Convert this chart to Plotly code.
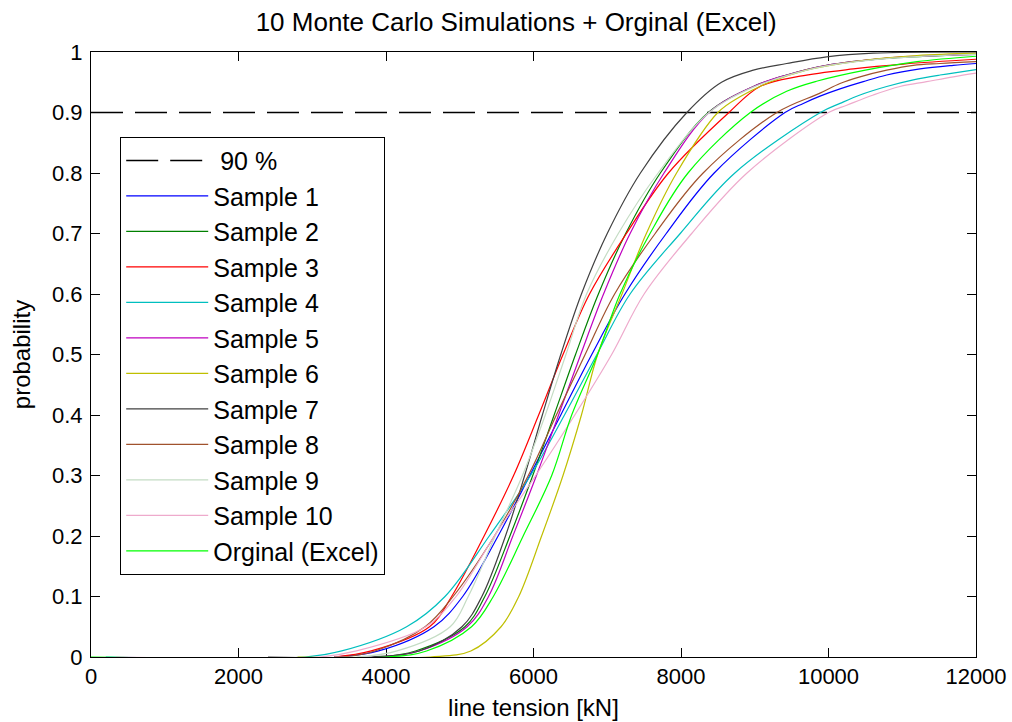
import plotly.graph_objects as go

# Cumulative probability levels at which each tension curve is tabulated.
# The first entry (0) marks where the curve leaves the axis.
P_LEVELS = [0.0, 0.01, 0.05, 0.1, 0.2, 0.3, 0.4, 0.5, 0.6, 0.7, 0.8, 0.9]

NAMES = ["Sample 1", "Sample 2", "Sample 3", "Sample 4", "Sample 5",
         "Sample 6", "Sample 7", "Sample 8", "Sample 9", "Sample 10",
         "Orginal (Excel)"]

COLORS = ["#0000ff", "#008000", "#ff0000", "#00bfbf", "#bf00bf",
          "#bfbf00", "#404040", "#a0522d", "#c4dcc4", "#eeaacc",
          "#00ff00"]

# tension [kN] where each curve starts (probability 0)
START_KN = [3300, 3300, 3300, 200, 3300, 2800, 2400, 3300, 3300, 340, 0]

# tension [kN] reached at each entry of P_LEVELS
S1 = [3300, 3900, 4650, 5040, 5520, 5950, 6370, 6790, 7240, 7800, 8450, 9410]
S2 = [3900, 4400, 5070, 5340, 5680, 5990, 6280, 6570, 6880, 7250, 7720, 8370]
S3 = [3300, 3800, 4590, 4890, 5330, 5730, 6070, 6400, 6760, 7260, 7830, 8650]
S4 = [2900, 3400, 4280, 4800, 5400, 5960, 6420, 6860, 7310, 7990, 8730, 9890]
S5 = [3900, 4450, 5100, 5390, 5720, 6040, 6340, 6640, 6950, 7310, 7770, 8380]
S6 = [4600, 5150, 5560, 5800, 6110, 6400, 6650, 6870, 7200, 7530, 7940, 8500]
S7 = [3800, 4450, 5030, 5300, 5620, 5880, 6120, 6370, 6650, 7000, 7450, 8080]
S8 = [3400, 3850, 4530, 4910, 5470, 5930, 6310, 6700, 7100, 7650, 8300, 9300]
S9 = [3600, 4150, 4870, 5115, 5480, 5850, 6160, 6440, 6720, 7150, 7690, 8380]
S10 = [3100, 3600, 4540, 4950, 5470, 6030, 6560, 7060, 7500, 8145, 8895, 10000]
ORIG = [4000, 4550, 5160, 5455, 5860, 6247, 6518, 6868, 7173, 7580, 8095, 8940]
TENSIONS = [S1, S2, S3, S4, S5, S6, S7, S8, S9, S10, ORIG]

# upper tails: (tension [kN], probability) above the 90 % level
TAIL_KN = [
    [9658, 9885, 10156, 10472, 10789, 11241, 11692, 12000],
    [8981, 9433, 9975, 10789, 11690, 12000],
    [9071, 9613, 10336, 11014, 12000],
    [10156, 10427, 10789, 11150, 11512, 12000],
    [8981, 9433, 9975, 10789, 11200, 12000],
    [8800, 9200, 9700, 10400, 11200, 12000],
    [8550, 8981, 9433, 9975, 10605, 12000],
    [9885, 10156, 10427, 10789, 11150, 11512, 12000],
    [8981, 9433, 9975, 10789, 11690, 12000],
    [10247, 10608, 10969, 11331, 11692, 12000],
    [9433, 9850, 10500, 11200, 12000],
]
TAIL_P = [
    [0.915, 0.927, 0.939, 0.951, 0.962, 0.972, 0.978, 0.981],
    [0.943, 0.962, 0.978, 0.9895, 0.995, 0.996],
    [0.943, 0.960, 0.972, 0.980, 0.988],
    [0.915, 0.929, 0.943, 0.954, 0.962, 0.971],
    [0.943, 0.962, 0.978, 0.990, 0.993, 0.996],
    [0.926, 0.950, 0.970, 0.985, 0.994, 0.998],
    [0.950, 0.970, 0.981, 0.992, 0.998, 1.0],
    [0.932, 0.948, 0.959, 0.970, 0.978, 0.981, 0.984],
    [0.942, 0.961, 0.977, 0.989, 0.995, 0.996],
    [0.912, 0.929, 0.943, 0.951, 0.959, 0.965],
    [0.935, 0.952, 0.970, 0.984, 0.993],
]

LEVEL_90 = 0.9
X_RANGE = [0, 12000]

FONT = "Liberation Sans, Arial, sans-serif"

fig = go.Figure()

# 90 % reference line
fig.add_trace(go.Scatter(
    x=X_RANGE, y=[LEVEL_90, LEVEL_90], mode="lines", name="\u00a090 %",
    line=dict(color="black", width=1.6, dash="32px,12px"),
    legendgroup="g0",
))

for i, (name, color) in enumerate(zip(NAMES, COLORS)):
    xs = [START_KN[i]] + TENSIONS[i] + TAIL_KN[i]
    ys = [0.0] + P_LEVELS + TAIL_P[i]
    fig.add_trace(go.Scatter(
        x=xs, y=ys, mode="lines", name=name,
        line=dict(color=color, width=1.2, shape="spline", smoothing=1.0),
        legendgroup=f"g{i + 1}",
    ))

axis_common = dict(
    showline=True, linecolor="black", linewidth=1, mirror="ticks",
    ticks="inside", ticklen=9, tickcolor="black", tickwidth=1,
    showgrid=False, zeroline=False, layer="below traces", automargin=False,
    tickfont=dict(family=FONT, size=22, color="black"),
)

fig.update_xaxes(
    range=X_RANGE, tick0=0, dtick=2000, tickformat="d",
    title=dict(text="line tension [kN]", font=dict(family=FONT, size=24, color="black"),
               standoff=10),
    **axis_common,
)
fig.update_yaxes(
    range=[0, 1], tick0=0, dtick=0.1, ticklabelstandoff=3,
    title=dict(text="probability", font=dict(family=FONT, size=24, color="black"),
               standoff=14),
    **axis_common,
)

fig.update_layout(
    width=1012, height=722,
    margin=dict(l=91, r=36, t=52, b=65),
    paper_bgcolor="white", plot_bgcolor="white",
    title=dict(text="10 Monte Carlo Simulations + Orginal (Excel)",
               x=0.51, xanchor="center", y=0.97, yanchor="middle",
               font=dict(family=FONT, size=26, color="black")),
    legend=dict(
        x=0.033, y=0.86, xanchor="left", yanchor="top",
        bgcolor="white", bordercolor="black", borderwidth=1,
        font=dict(family=FONT, size=25, color="black"),
        itemwidth=82, tracegroupgap=0,
    ),
    showlegend=True,
)

fig.write_html("out.html")
